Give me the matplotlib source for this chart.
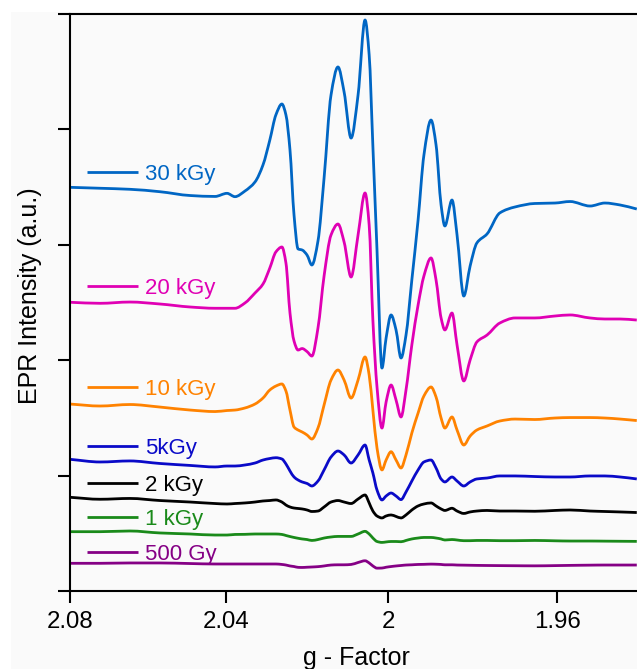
import numpy as np
import matplotlib
matplotlib.use("Agg")
import matplotlib.pyplot as plt
import matplotlib.transforms as mtransforms
from matplotlib.patches import Rectangle, PathPatch
from matplotlib.path import Path

plt.rcParams['font.family'] = ['Liberation Sans', 'DejaVu Sans']

g_factor = [2.0799, 2.0721, 2.0644, 2.0567, 2.0490, 2.0427, 2.0397, 2.0377, 2.0352, 2.0327,
            2.0307, 2.0290, 2.0275, 2.0260, 2.0250, 2.0240, 2.0230, 2.0220, 2.0210, 2.0198,
            2.0186, 2.0171, 2.0156, 2.0139, 2.0122, 2.0107, 2.0090, 2.0073, 2.0056, 2.0046,
            2.0037, 2.0027, 2.0015, 2.0005, 1.9993, 1.9981, 1.9969, 1.9957, 1.9943, 1.9928,
            1.9914, 1.9897, 1.9885, 1.9873, 1.9864, 1.9847, 1.9835, 1.9819, 1.9804, 1.9788,
            1.9764, 1.9734, 1.9698, 1.9652, 1.9605, 1.9570, 1.9524, 1.9490, 1.9455, 1.9417]

# EPR intensity (a.u., spectra stacked with offsets)
kgy30 = [3.498, 3.490, 3.481, 3.460, 3.427, 3.419, 3.446, 3.417, 3.466, 3.544,
         3.692, 3.908, 4.125, 4.220, 4.125, 3.822, 3.258, 2.964, 2.955, 2.912,
         2.825, 3.033, 3.579, 4.298, 4.541, 4.324, 3.925, 4.298, 4.948, 4.645,
         3.856, 2.955, 1.932, 2.192, 2.392, 2.262, 2.019, 2.218, 2.695, 3.215,
         3.778, 4.081, 3.865, 3.345, 3.163, 3.388, 3.085, 2.556, 2.816, 3.016,
         3.094, 3.276, 3.328, 3.358, 3.362, 3.375, 3.336, 3.362, 3.345, 3.310]
kgy20 = [2.502, 2.493, 2.504, 2.487, 2.461, 2.450, 2.450, 2.450, 2.496, 2.582,
         2.660, 2.799, 2.938, 2.981, 2.842, 2.409, 2.166, 2.088, 2.101, 2.075,
         2.036, 2.279, 2.730, 3.085, 3.180, 3.024, 2.721, 3.085, 3.449, 3.172,
         2.348, 1.768, 1.412, 1.638, 1.785, 1.655, 1.508, 1.742, 2.132, 2.478,
         2.730, 2.886, 2.695, 2.366, 2.262, 2.409, 2.132, 1.820, 2.002, 2.158,
         2.218, 2.322, 2.366, 2.366, 2.383, 2.392, 2.366, 2.357, 2.357, 2.348]
kgy10 = [1.620, 1.603, 1.616, 1.594, 1.568, 1.555, 1.564, 1.568, 1.586, 1.620,
         1.672, 1.742, 1.776, 1.794, 1.733, 1.568, 1.421, 1.395, 1.378, 1.352,
         1.317, 1.412, 1.612, 1.828, 1.915, 1.828, 1.672, 1.828, 2.028, 1.872,
         1.568, 1.239, 1.049, 1.135, 1.207, 1.135, 1.066, 1.179, 1.369, 1.542,
         1.690, 1.768, 1.681, 1.499, 1.412, 1.508, 1.395, 1.265, 1.343, 1.395,
         1.430, 1.473, 1.490, 1.486, 1.499, 1.503, 1.503, 1.499, 1.490, 1.477]
kgy5 = [1.141, 1.118, 1.127, 1.105, 1.088, 1.075, 1.083, 1.083, 1.092, 1.109,
        1.135, 1.148, 1.155, 1.144, 1.101, 1.040, 0.988, 0.962, 0.945, 0.932,
        0.910, 0.953, 1.049, 1.161, 1.213, 1.179, 1.109, 1.179, 1.265, 1.135,
        1.023, 0.875, 0.789, 0.823, 0.849, 0.823, 0.792, 0.858, 0.953, 1.049,
        1.118, 1.135, 1.066, 0.971, 0.945, 0.988, 0.953, 0.910, 0.945, 0.971,
        0.979, 0.997, 0.997, 0.992, 0.988, 0.988, 0.997, 0.997, 0.988, 0.971]
kgy2 = [0.812, 0.795, 0.802, 0.784, 0.771, 0.758, 0.754, 0.758, 0.763, 0.771,
        0.780, 0.784, 0.789, 0.771, 0.745, 0.728, 0.719, 0.715, 0.711, 0.702,
        0.689, 0.693, 0.728, 0.771, 0.784, 0.771, 0.758, 0.797, 0.832, 0.763,
        0.693, 0.650, 0.633, 0.650, 0.659, 0.646, 0.633, 0.659, 0.702, 0.737,
        0.754, 0.763, 0.737, 0.711, 0.698, 0.717, 0.693, 0.672, 0.685, 0.693,
        0.698, 0.693, 0.693, 0.691, 0.698, 0.702, 0.693, 0.689, 0.685, 0.680]
kgy1 = [0.514, 0.514, 0.520, 0.503, 0.494, 0.485, 0.485, 0.490, 0.491, 0.494,
        0.494, 0.494, 0.494, 0.490, 0.481, 0.472, 0.464, 0.457, 0.451, 0.446,
        0.438, 0.446, 0.459, 0.468, 0.473, 0.473, 0.473, 0.494, 0.517, 0.494,
        0.459, 0.429, 0.421, 0.425, 0.429, 0.429, 0.427, 0.438, 0.451, 0.459,
        0.464, 0.464, 0.459, 0.451, 0.442, 0.446, 0.442, 0.436, 0.436, 0.438,
        0.438, 0.436, 0.436, 0.438, 0.435, 0.433, 0.433, 0.432, 0.431, 0.430]
gy500 = [0.240, 0.240, 0.243, 0.243, 0.238, 0.234, 0.234, 0.234, 0.234, 0.234,
         0.234, 0.234, 0.234, 0.230, 0.225, 0.217, 0.212, 0.205, 0.204, 0.206,
         0.208, 0.211, 0.217, 0.225, 0.227, 0.227, 0.230, 0.247, 0.262, 0.243,
         0.217, 0.198, 0.199, 0.206, 0.212, 0.217, 0.221, 0.225, 0.227, 0.230,
         0.231, 0.233, 0.232, 0.230, 0.227, 0.227, 0.225, 0.224, 0.223, 0.222,
         0.221, 0.220, 0.219, 0.218, 0.220, 0.222, 0.224, 0.225, 0.225, 0.225]

labels = ['30 kGy', '20 kGy', '10 kGy', '5kGy', '2 kGy', '1 kGy', '500 Gy']
colors = ['#0066c4', '#e000b4', '#ff8200', '#0a0ac8', '#000000', '#1a8a1a', '#850085']
spectra = [kgy30, kgy20, kgy10, kgy5, kgy2, kgy1, gy500]
label_y = [0.7262, 0.5286, 0.3530, 0.2513, 0.1877, 0.1288, 0.0681]  # axes fraction

g_ticks = [2.08, 2.04, 2.0, 1.96]
g_tick_labels = ['2.08', '2.04', '2', '1.96']


def smooth_path(g, y):
    # monotone cubic (pchip-like) bezier path through the read points,
    # built in 1/g (field-like) space so the curve is smooth on screen
    g = np.asarray(g, float)
    y = np.asarray(y, float)
    u = 1.0 / g
    h = np.diff(u)
    d = np.diff(y) / h
    m = np.zeros_like(y)
    m[0], m[-1] = d[0], d[-1]
    for i in range(1, len(y) - 1):
        if d[i - 1] * d[i] <= 0:
            m[i] = 0.0
        else:
            w1 = 2 * h[i] + h[i - 1]
            w2 = h[i] + 2 * h[i - 1]
            m[i] = (w1 + w2) / (w1 / d[i - 1] + w2 / d[i])
    verts = [(g[0], y[0])]
    codes = [Path.MOVETO]
    for i in range(len(y) - 1):
        c1 = (1.0 / (u[i] + h[i] / 3), y[i] + m[i] * h[i] / 3)
        c2 = (1.0 / (u[i + 1] - h[i] / 3), y[i + 1] - m[i + 1] * h[i] / 3)
        verts += [c1, c2, (g[i + 1], y[i + 1])]
        codes += [Path.CURVE4] * 3
    return Path(verts, codes)


fig = plt.figure(figsize=(6.37, 6.69), dpi=100, facecolor='#fafafa')
ax = fig.add_axes([69.7 / 637, 78 / 669, 567.3 / 637, 577 / 669])
ax.set_facecolor('#fafafa')

# white strips at top and left of the original image
fig.patches.append(Rectangle((0, 1 - 12 / 669), 1, 12 / 669, transform=fig.transFigure,
                             facecolor='white', edgecolor='none', zorder=-1))
fig.patches.append(Rectangle((0, 0), 11 / 637, 1, transform=fig.transFigure,
                             facecolor='white', edgecolor='none', zorder=-1))

# field axis: positions are linear in 1/g
ax.set_xscale('function', functions=(lambda g: -1.0 / g, lambda u: -1.0 / u))

for spec, col in zip(spectra, colors):
    ax.add_patch(PathPatch(smooth_path(g_factor, spec), facecolor='none', edgecolor=col,
                           lw=2.0, joinstyle='round', capstyle='butt'))

ax.set_xlim(2.08, 1.94165)
ax.set_ylim(0, 5)
ax.set_xticks(g_ticks)
ax.set_xticklabels(g_tick_labels)
ax.set_yticks([0, 1, 2, 3, 4, 5])
ax.set_yticklabels([])
ax.minorticks_off()

ax.spines['right'].set_visible(False)
for s in ['left', 'bottom', 'top']:
    ax.spines[s].set_linewidth(1.5)
ax.tick_params(axis='both', direction='out', length=8.6, width=1.5, labelsize=17.3, pad=6)
ax.tick_params(axis='y', right=False)
ax.tick_params(axis='x', top=False)

# labels drawn next to a short line, in the trace colour
txt_tr = mtransforms.offset_copy(ax.transAxes, fig=fig, y=-7.9, units='dots')
for lab, col, yy in zip(labels, colors, label_y):
    ax.plot([0.0305, 0.1204], [yy, yy], color=col, lw=2.0, transform=ax.transAxes,
            solid_capstyle='butt')
    ax.text(0.1327, yy, lab, color=col, fontsize=16, ha='left', va='baseline',
            transform=txt_tr)

ax.set_xlabel('g - Factor', fontsize=18)
ax.xaxis.label.set_va('baseline')
ax.xaxis.set_label_coords(0.5056, -0.1282)
ax.set_ylabel('EPR Intensity (a.u.)', fontsize=18)
ax.yaxis.label.set_va('baseline')
ax.yaxis.set_label_coords(-0.0582, 0.5121)

fig.savefig('out.png', dpi=100, facecolor=fig.get_facecolor())
